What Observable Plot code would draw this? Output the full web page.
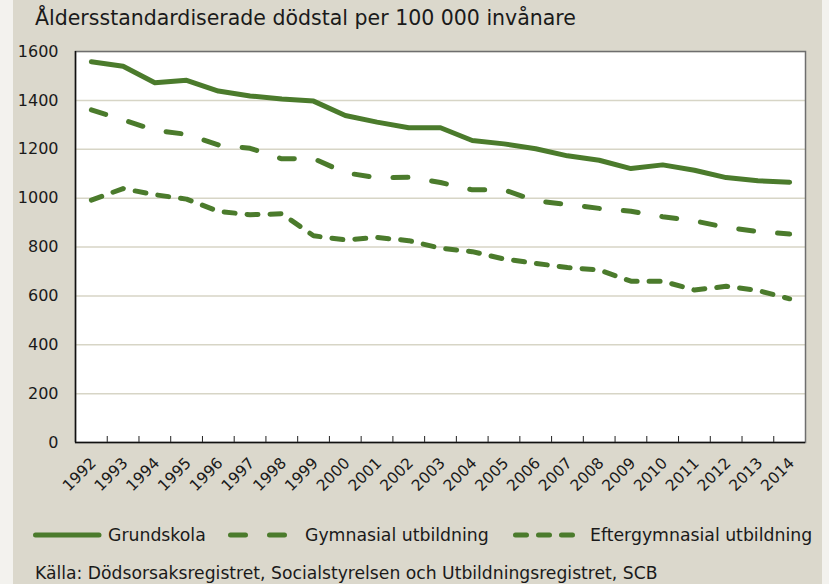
<!DOCTYPE html>
<html>
<head>
<meta charset="utf-8">
<script src="https://cdn.jsdelivr.net/npm/d3@7"></script>
<script src="https://cdn.jsdelivr.net/npm/@observablehq/plot@0.6"></script>
<style>
  html, body { margin: 0; padding: 0; background: #f3f2ee; }
  #box { position: absolute; left: 13px; top: 0; width: 809px; height: 584px; background: #dbd8cc; font-family: "DejaVu Sans", sans-serif; color: #1a1a1a; }
  #title { position: absolute; left: 22px; top: 6px; font-size: 20.5px; white-space: nowrap; }
  #chart { position: absolute; left: 0; top: 40px; }
  #legend { position: absolute; left: 0; top: 520px; }
  #source { position: absolute; left: 22px; top: 563px; font-size: 17.2px; white-space: nowrap; }
</style>
</head>
<body>
<div id="box">
  <div id="title">Åldersstandardiserade dödstal per 100 000 invånare</div>
  <div id="chart"></div>
  <div id="legend"></div>
  <div id="source">Källa: Dödsorsaksregistret, Socialstyrelsen och Utbildningsregistret, SCB</div>
</div>
<script>
const years = [1992,1993,1994,1995,1996,1997,1998,1999,2000,2001,2002,2003,2004,2005,2006,2007,2008,2009,2010,2011,2012,2013,2014];
const grundskola = [1558,1540,1472,1482,1438,1418,1406,1397,1338,1311,1288,1288,1236,1222,1202,1173,1155,1121,1136,1114,1084,1071,1065];
const gymnasial = [1361,1320,1278,1261,1218,1204,1161,1162,1104,1083,1085,1064,1034,1034,989,974,958,946,924,907,880,863,853];
const eftergymnasial = [992,1039,1014,996,946,932,936,846,829,839,826,795,781,751,733,716,706,660,660,624,639,622,588];
const seriesNames = ["Grundskola", "Gymnasial utbildning", "Eftergymnasial utbildning"];
const yTicks = [0,200,400,600,800,1000,1200,1400,1600];

const color = "#4b7b2c";
const dashes = [null, "15,24", "11,12"];
const seriesValues = [grundskola, gymnasial, eftergymnasial];
const boundaries = years.slice(0, -1).map(y => y + 0.5);

const lineMarks = seriesValues.map((vals, i) =>
  Plot.line(years.map((yr, j) => ({year: yr, value: vals[j]})), {
    x: "year", y: "value", stroke: color, strokeWidth: 5,
    strokeLinecap: "round", strokeLinejoin: "round",
    strokeDasharray: dashes[i]
  })
);

const chart = Plot.plot({
  width: 809, height: 460,
  marginLeft: 62, marginRight: 17, marginTop: 11, marginBottom: 58,
  style: {background: "transparent", fontFamily: "DejaVu Sans, sans-serif", fontSize: "15px", color: "#1a1a1a"},
  x: {type: "linear", domain: [years[0] - 0.5, years[years.length - 1] + 0.5]},
  y: {domain: [0, 1600]},
  marks: [
    Plot.frame({fill: "white", stroke: null}),
    Plot.ruleY(yTicks.filter(d => d > 0), {stroke: "#d7d5c6", strokeWidth: 1.5}),
    Plot.axisY({ticks: yTicks, tickSize: 0, tickPadding: 17, tickFormat: d3.format("d"), fontSize: 16, label: null}),
    Plot.axisX({ticks: boundaries, tickSize: -6, tickFormat: () => "", label: null, stroke: "#222"}),
    Plot.axisX({ticks: years, tickSize: 0, tickPadding: 18, tickRotate: -45, tickFormat: d => String(d), dx: 2, fontSize: 15.5, label: null}),
    ...lineMarks,
    Plot.frame({stroke: "#6e6e6e", strokeWidth: 1.5}),
    Plot.ruleX([years[0] - 0.5], {stroke: "#111", strokeWidth: 1.5}),
    Plot.ruleY([0], {stroke: "#111", strokeWidth: 1.5})
  ]
});
document.getElementById("chart").appendChild(chart);

// legend
const ns = "http://www.w3.org/2000/svg";
const lg = document.createElementNS(ns, "svg");
lg.setAttribute("width", 809); lg.setAttribute("height", 34);
const legendItems = [
  {x1: 22.5, x2: 86, text: 95},
  {x1: 217.5, x2: 276, text: 292},
  {x1: 502.5, x2: 561, text: 577}
];
legendItems.forEach((it, i) => {
  const l = document.createElementNS(ns, "line");
  l.setAttribute("x1", it.x1); l.setAttribute("x2", it.x2);
  l.setAttribute("y1", 15); l.setAttribute("y2", 15);
  l.setAttribute("stroke", color); l.setAttribute("stroke-width", 5);
  l.setAttribute("stroke-linecap", "round");
  if (dashes[i]) l.setAttribute("stroke-dasharray", dashes[i]);
  lg.appendChild(l);
  const t = document.createElementNS(ns, "text");
  t.setAttribute("x", it.text); t.setAttribute("y", 15);
  t.setAttribute("dy", "0.35em");
  t.setAttribute("font-size", 17.3);
  t.setAttribute("font-family", "DejaVu Sans, sans-serif");
  t.setAttribute("fill", "#1a1a1a");
  t.textContent = seriesNames[i];
  lg.appendChild(t);
});
document.getElementById("legend").appendChild(lg);
</script>
</body>
</html>
